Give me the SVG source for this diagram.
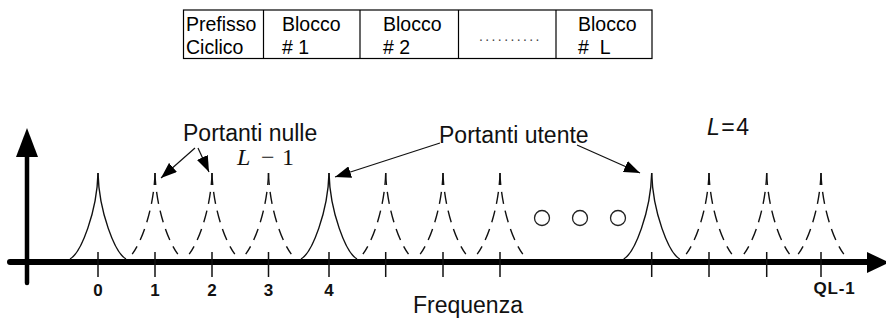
<svg xmlns="http://www.w3.org/2000/svg" xmlns:xlink="http://www.w3.org/1999/xlink" width="886" height="323" viewBox="0 0 886 323">
  <style>
    .cell { fill: none; stroke: #000; stroke-width: 1.2; }
    .tt { font-family: "Liberation Sans", Arial, sans-serif; font-size: 19.5px; fill: #000; }
    .lbl { font-family: "Liberation Sans", Arial, sans-serif; font-size: 23px; fill: #111; }
    .num { font-family: "Liberation Sans", Arial, sans-serif; font-size: 17px; font-weight: bold; fill: #111; text-anchor: middle; }
    .solid { fill: none; stroke: #111; stroke-width: 1.4; stroke-linejoin: round; }
    .dashed { fill: none; stroke: #111; stroke-width: 1.4; stroke-dasharray: 12 7; stroke-linejoin: round; }
    .tick { stroke: #111; stroke-width: 1.5; }
    .link { stroke: #111; stroke-width: 1.2; fill: none; marker-end: url(#head); }
    .dot { fill: none; stroke: #222; stroke-width: 1.3; }
  </style>
  <defs>
    <marker id="head" viewBox="0 0 16 12" refX="16" refY="6" markerWidth="16" markerHeight="12" markerUnits="userSpaceOnUse" orient="auto">
      <path d="M0,0 L16,6 L0,12 z" fill="#000"/>
    </marker>
    <!-- one side of a subcarrier lobe, drawn from the peak down to the base -->
    <path id="half" d="M0,-89 C-1,-50 -17,-9 -28,-3"/>
    <!-- the same side, stopped a little above the axis (null carriers) -->
    <path id="half-short" d="M0,-89 C-0.85,-55.85 -12.5,-21.25 -22.8,-7.9"/>
    <g id="lobe">
      <use xlink:href="#half"/>
      <use xlink:href="#half" transform="scale(-1,1)"/>
    </g>
    <g id="lobe-null">
      <use xlink:href="#half-short"/>
      <use xlink:href="#half-short" transform="scale(-1,1)"/>
    </g>
  </defs>

  <!-- OFDM symbol structure -->
  <g id="frame">
    <rect class="cell" x="183.5" y="10" width="468.5" height="48.5"/>
    <line class="cell" x1="263.5" y1="10" x2="263.5" y2="58.5"/>
    <line class="cell" x1="360" y1="10" x2="360" y2="58.5"/>
    <line class="cell" x1="458.5" y1="10" x2="458.5" y2="58.5"/>
    <line class="cell" x1="556" y1="10" x2="556" y2="58.5"/>
    <text class="tt" x="186" y="30.5">Prefisso</text>
    <text class="tt" x="186" y="54">Ciclico</text>
    <text class="tt" x="282" y="30.5">Blocco</text>
    <text class="tt" x="282" y="54"># 1</text>
    <text class="tt" x="383" y="30.5">Blocco</text>
    <text class="tt" x="383" y="54"># 2</text>
    <text x="479" y="41" font-family="Liberation Sans, Arial, sans-serif" font-size="14" letter-spacing="2.4" fill="#444">..........</text>
    <text class="tt" x="578" y="30.5">Blocco</text>
    <text class="tt" x="578" y="54" xml:space="preserve">#  L</text>
  </g>

  <!-- axes -->
  <g id="axes">
    <path d="M10,262 L870,262" stroke="#000" stroke-width="6" stroke-linecap="round"/>
    <polygon points="867,252 889,262.5 867,273" fill="#000"/>
    <path d="M27,283 L27,155" stroke="#000" stroke-width="4.5" stroke-linecap="round"/>
    <polygon points="27,128 16,157 38,157" fill="#000"/>
  </g>

  <!-- frequency ticks -->
  <g id="ticks">
    <line class="tick" x1="98" y1="252" x2="98" y2="277"/>
    <line class="tick" x1="155" y1="252" x2="155" y2="277"/>
    <line class="tick" x1="212" y1="252" x2="212" y2="277"/>
    <line class="tick" x1="268.5" y1="252" x2="268.5" y2="277"/>
    <line class="tick" x1="329" y1="252" x2="329" y2="277"/>
    <line class="tick" x1="385.7" y1="252" x2="385.7" y2="277"/>
    <line class="tick" x1="443" y1="252" x2="443" y2="277"/>
    <line class="tick" x1="500" y1="252" x2="500" y2="277"/>
    <line class="tick" x1="651.7" y1="252" x2="651.7" y2="277"/>
    <line class="tick" x1="709" y1="252" x2="709" y2="277"/>
    <line class="tick" x1="766.7" y1="252" x2="766.7" y2="277"/>
    <line class="tick" x1="821" y1="252" x2="821" y2="277"/>
  </g>

  <!-- user subcarriers (solid) and null subcarriers (dashed) -->
  <g id="user-carriers">
    <use xlink:href="#lobe" class="solid" transform="translate(98,262)"/>
    <use xlink:href="#lobe" class="solid" transform="translate(329,262)"/>
    <use xlink:href="#lobe" class="solid" transform="translate(651.7,262)"/>
  </g>
  <g id="null-carriers">
    <use xlink:href="#lobe-null" class="dashed" transform="translate(155,262)"/>
    <use xlink:href="#lobe-null" class="dashed" transform="translate(212,262)"/>
    <use xlink:href="#lobe-null" class="dashed" transform="translate(268.5,262)"/>
    <use xlink:href="#lobe-null" class="dashed" transform="translate(385.7,262)"/>
    <use xlink:href="#lobe-null" class="dashed" transform="translate(443,262)"/>
    <use xlink:href="#lobe-null" class="dashed" transform="translate(500,262)"/>
    <use xlink:href="#lobe-null" class="dashed" transform="translate(709,262)"/>
    <use xlink:href="#lobe-null" class="dashed" transform="translate(766.7,262)"/>
    <use xlink:href="#lobe-null" class="dashed" transform="translate(821,262)"/>
  </g>

  <!-- ellipsis between carrier groups -->
  <g id="ellipsis">
    <circle class="dot" cx="542" cy="218" r="7.5"/>
    <circle class="dot" cx="580" cy="218" r="7.5"/>
    <circle class="dot" cx="618" cy="218" r="7.5"/>
  </g>

  <!-- tick labels -->
  <g id="tick-labels">
    <text class="num" x="98" y="296">0</text>
    <text class="num" x="155" y="296">1</text>
    <text class="num" x="212" y="296">2</text>
    <text class="num" x="268.5" y="296">3</text>
    <text class="num" x="329" y="296">4</text>
    <text class="num" x="834.5" y="294" letter-spacing="0.8">QL-1</text>
  </g>

  <!-- annotations -->
  <g id="label-null">
    <text class="lbl" x="183" y="141">Portanti nulle</text>
  </g>
  <g id="label-count">
    <text font-family="Liberation Serif, 'Times New Roman', serif" font-size="24" fill="#111" y="165"><tspan x="237" font-style="italic">L</tspan><tspan x="261">−</tspan><tspan x="282">1</tspan></text>
  </g>
  <g id="label-user">
    <text class="lbl" x="439" y="143">Portanti utente</text>
  </g>
  <g id="label-L">
    <text font-family="Liberation Sans, Arial, sans-serif" font-size="23" fill="#111" x="707" y="135" letter-spacing="1.5"><tspan font-style="italic">L</tspan>=4</text>
  </g>
  <g id="label-axis">
    <text class="lbl" x="413" y="313" font-size="22">Frequenza</text>
  </g>

  <!-- pointers from annotations to carriers -->
  <g id="connectors">
    <line class="link" x1="195" y1="148" x2="161" y2="178"/>
    <line class="link" x1="198" y1="148" x2="209" y2="172"/>
    <line class="link" x1="440" y1="143" x2="335" y2="177"/>
    <line class="link" x1="577" y1="145" x2="640" y2="173"/>
  </g>
</svg>
